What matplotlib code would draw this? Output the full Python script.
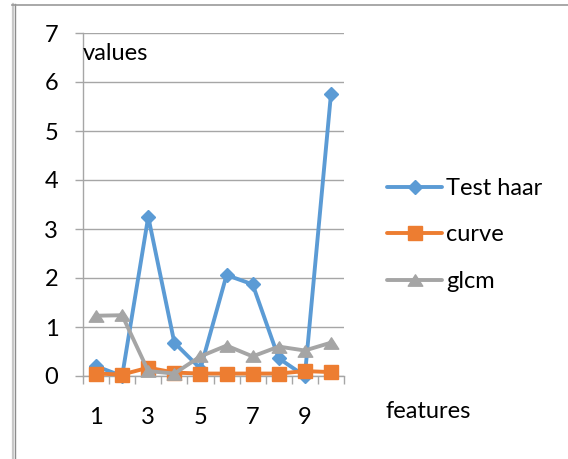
import numpy as np
import matplotlib
matplotlib.use("Agg")
import matplotlib.pyplot as plt
from matplotlib.lines import Line2D
from matplotlib.path import Path

features = [1, 2, 3, 4, 5, 6, 7, 8, 9, 10]
test_haar = [0.2, 0.0, 3.25, 0.68, 0.15, 2.06, 1.87, 0.36, 0.0, 5.75]
curve = [0.05, 0.03, 0.17, 0.07, 0.05, 0.05, 0.05, 0.05, 0.1, 0.08]
glcm = [1.23, 1.24, 0.1, 0.05, 0.4, 0.62, 0.4, 0.6, 0.52, 0.68]
x_labels = ["1", "3", "5", "7", "9"]

BLUE = "#5b9bd5"
ORANGE = "#ed7d31"
GRAY = "#a5a5a5"
GRID = "#a6a6a6"

plt.rcParams["font.family"] = ["Lato", "DejaVu Sans"]
FS = 17

fig = plt.figure(figsize=(5.68, 4.59), dpi=100)
ax = fig.add_axes([83 / 568, 1 - 376 / 459, (344 - 83) / 568, (376 - 33) / 459])

# flat Excel-style triangle
tri = Path([(0, 0.78), (-1, -0.78), (1, -0.78), (0, 0.78)],
           [Path.MOVETO, Path.LINETO, Path.LINETO, Path.CLOSEPOLY])

kw = dict(lw=2.8, solid_joinstyle="round", solid_capstyle="round", clip_on=False)
ax.plot(features, test_haar, color=BLUE, marker="D", ms=7.2, label="Test haar", zorder=3, **kw)
ax.plot(features, curve, color=ORANGE, marker="s", ms=9.6, label="curve", zorder=4, **kw)
ax.plot(features, glcm, color=GRAY, marker=tri, ms=10.5, label="glcm", zorder=5, **kw)

ax.set_xlim(0.5, 10.5)
ax.set_ylim(0, 7)
ax.set_yticks(range(8))
ax.grid(axis="y", color=GRID, lw=1.0)
ax.set_axisbelow(True)

# tick marks between categories, labels on every other category
ax.set_xticks(np.arange(0.5, 11, 1))
ax.set_xticklabels([])
ax.set_xticks(features[::2], minor=True)
ax.set_xticklabels(x_labels, minor=True)
ax.tick_params(axis="x", which="major", direction="out", length=5.5, width=1, color=GRID)
ax.tick_params(axis="x", which="minor", length=0, pad=22, labelsize=FS)
ax.tick_params(axis="y", direction="out", length=5.8, width=1, color=GRID, pad=12, labelsize=FS)

for side in ["top", "right"]:
    ax.spines[side].set_visible(False)
for side in ["left", "bottom"]:
    ax.spines[side].set_color(GRID)
    ax.spines[side].set_linewidth(1.0)

fig.text(83 / 568, 1 - 54 / 459, "values", fontsize=FS, ha="left", va="center")
fig.text(386 / 568, 1 - 411 / 459, "features", fontsize=FS, ha="left", va="center")

leg = fig.legend(loc="upper left", bbox_to_anchor=(375 / 568, 1 - 166 / 459),
                 frameon=False, fontsize=FS, handlelength=2.35, handletextpad=0.15,
                 labelspacing=1.08, borderpad=0.0)

# page frame on the left and top
fig.add_artist(Line2D([12.5 / 568, 12.5 / 568], [0, 1 - 4 / 459], color="#c8c8c8", lw=1.6))
fig.add_artist(Line2D([14.5 / 568, 14.5 / 568], [0, 1 - 4 / 459], color="#8c8c8c", lw=1.0))
fig.add_artist(Line2D([12 / 568, 1], [1 - 4.5 / 459, 1 - 4.5 / 459], color="#999999", lw=1.2))

fig.savefig("out.png", dpi=100)
